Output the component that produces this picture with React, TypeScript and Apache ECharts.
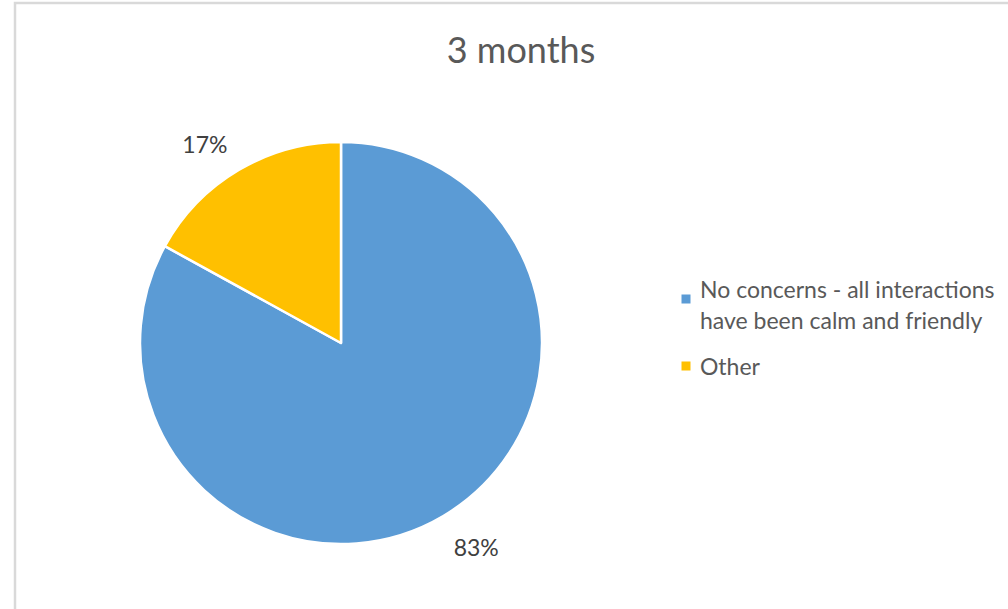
import React, { useEffect, useRef } from "react";
import * as echarts from "echarts";

const titleText = "3 months";
const categories = [
  "No concerns - all interactions have been calm and friendly",
  "Other",
];
const legendLines = [
  "No concerns - all interactions\nhave been calm and friendly",
  "Other",
];
const values = [83, 17];
const colors = ["#5B9BD5", "#FFC000"];
const labelLineLengths = [36, 30];

// legend icons: a 9px square placed inside a 14x40 box (tiny corner dots fix the box)
const legendIcons = [
  "path://M0,0h0.01v0.01h-0.01z M0.5,10.5h9v9h-9z M13.99,39.99h0.01v0.01h-0.01z",
  "path://M0,0h0.01v0.01h-0.01z M0.5,15.5h9v9h-9z M13.99,39.99h0.01v0.01h-0.01z",
];

export default function App() {
  const ref = useRef<HTMLDivElement>(null);
  useEffect(() => {
    if (!ref.current) return;
    const chart = echarts.init(ref.current, undefined, { renderer: "svg" });
    const font = "Lato, 'Open Sans', sans-serif";
    chart.setOption({
      animation: false,
      backgroundColor: "#ffffff",
      title: {
        text: titleText,
        left: 516,
        top: 26,
        textAlign: "center",
        textStyle: {
          fontFamily: font,
          fontSize: 36,
          fontWeight: "normal",
          color: "#595959",
        },
      },
      legend: {
        orient: "vertical",
        left: 681,
        top: 273,
        padding: 0,
        itemWidth: 14,
        itemHeight: 40,
        itemGap: 11,
        itemStyle: { borderWidth: 0 },
        data: categories.map((c, i) => ({
          name: c,
          icon: legendIcons[i],
        })),
        formatter: (name: string) => legendLines[categories.indexOf(name)],
        textStyle: {
          fontFamily: font,
          fontSize: 23,
          lineHeight: 31,
          color: "#595959",
        },
      },
      graphic: [
        {
          type: "rect",
          shape: { x: 15, y: 3, width: 1200, height: 800 },
          style: { fill: "none", stroke: "#d9d9d9", lineWidth: 2.5 },
          silent: true,
        },
      ],
      series: [
        {
          type: "pie",
          center: [341, 343],
          radius: 201,
          startAngle: 90,
          clockwise: true,
          itemStyle: { borderColor: "#ffffff", borderWidth: 2.5 },
          label: {
            show: true,
            position: "outside",
            formatter: "{d}%",
            fontFamily: font,
            fontSize: 23,
            color: "#404040",
            distanceToLabelLine: 0,
          },
          emphasis: { disabled: true },
          data: categories.map((c, i) => ({
            name: c,
            value: values[i],
            itemStyle: { color: colors[i] },
            label: i === 0 ? { distanceToLabelLine: -8 } : { distanceToLabelLine: -4 },
            labelLine: { show: false, length: labelLineLengths[i], length2: 0 },
          })),
        },
      ],
    });
    return () => chart.dispose();
  }, []);
  return (
    <div
      ref={ref}
      style={{ position: "fixed", left: 0, top: 0, width: 1008, height: 609 }}
    />
  );
}
